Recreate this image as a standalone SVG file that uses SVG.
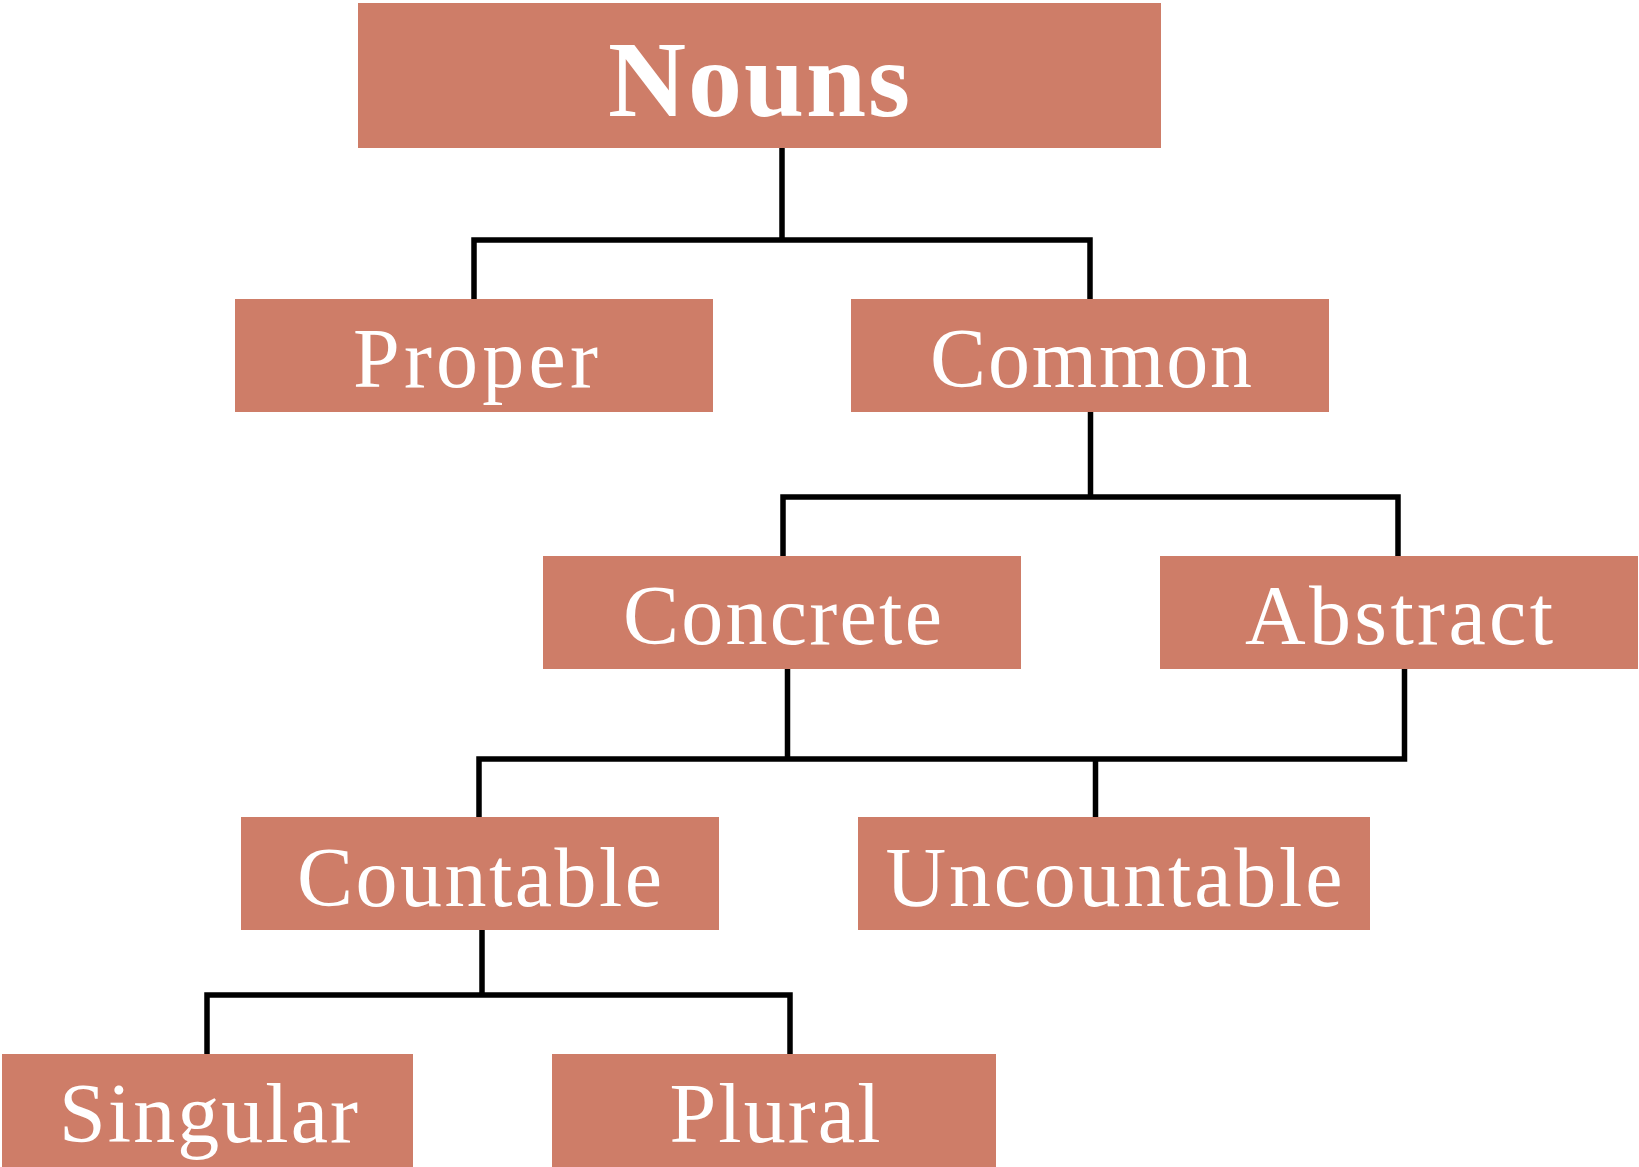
<svg xmlns="http://www.w3.org/2000/svg" width="1639" height="1167" viewBox="0 0 1639 1167">
<style>
.box{fill:#CE7D68}
.lbl{font-family:"Liberation Serif","Times New Roman",serif;font-size:84px;fill:#ffffff;text-anchor:middle}
.big{font-size:108px;font-weight:bold}
.conn{fill:none;stroke:#000;stroke-width:5.5;stroke-linecap:square;stroke-linejoin:miter}
</style>
<rect width="1639" height="1167" fill="#ffffff"/>
<g id="connectors">
<path class="conn" d="M782 148 V240 M474 299 V240 H1090 V299"/>
<path class="conn" d="M1090.5 412 V497 M783 556 V497 H1398 V556"/>
<path class="conn" d="M787.5 669 V759 M1404.5 669 V759 M479 817 V759 H1404.5 M1095.5 759 V817"/>
<path class="conn" d="M482 930 V995 M207 1054 V995 H790 V1054"/>
</g>
<g id="nouns"><rect class="box" x="358" y="3" width="803" height="145"/><text class="lbl big" x="759" y="115.5" textLength="302" lengthAdjust="spacing">Nouns</text></g>
<g id="proper"><rect class="box" x="235" y="299" width="478" height="113"/><text class="lbl" x="475.5" y="387" textLength="245" lengthAdjust="spacing">Proper</text></g>
<g id="common"><rect class="box" x="851" y="299" width="478" height="113"/><text class="lbl" x="1091" y="387" textLength="322" lengthAdjust="spacing">Common</text></g>
<g id="concrete"><rect class="box" x="543" y="556" width="478" height="113"/><text class="lbl" x="782.5" y="644" textLength="319" lengthAdjust="spacing">Concrete</text></g>
<g id="abstract"><rect class="box" x="1160" y="556" width="478" height="113"/><text class="lbl" x="1399" y="644" textLength="308" lengthAdjust="spacing">Abstract</text></g>
<g id="countable"><rect class="box" x="241" y="817" width="478" height="113"/><text class="lbl" x="479.5" y="905.5" textLength="365" lengthAdjust="spacing">Countable</text></g>
<g id="uncountable"><rect class="box" x="858" y="817" width="512" height="113"/><text class="lbl" x="1114" y="905.5" textLength="457" lengthAdjust="spacing">Uncountable</text></g>
<g id="singular"><rect class="box" x="2" y="1054" width="411" height="113"/><text class="lbl" x="208.5" y="1142" textLength="299" lengthAdjust="spacing">Singular</text></g>
<g id="plural"><rect class="box" x="552" y="1054" width="444" height="113"/><text class="lbl" x="775" y="1142" textLength="211" lengthAdjust="spacing">Plural</text></g>
</svg>
